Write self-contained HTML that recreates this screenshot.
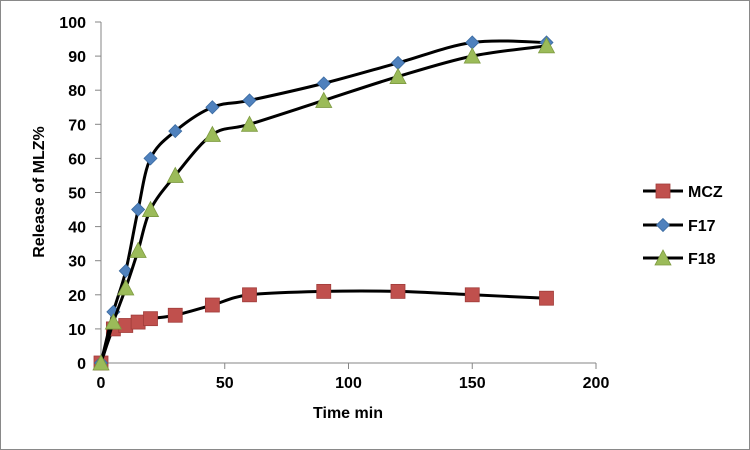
<!DOCTYPE html>
<html><head><meta charset="utf-8"><style>
body{margin:0;background:#fff}
svg{display:block;font-family:"Liberation Sans",Arial,sans-serif}
</style></head><body>
<svg id="chart" width="750" height="450">
<rect x="0.5" y="0.5" width="749" height="449" fill="#fff" stroke="#898989"/>
<g id="axes"></g><g id="series"></g><g id="legend"></g>
<text x="0" y="0" transform="translate(44,192) rotate(-90)" text-anchor="middle" font-size="16" font-weight="bold">Release of MLZ%</text>
<text x="348" y="418" text-anchor="middle" font-size="16" font-weight="bold">Time min</text>
</svg>
<script>
const times=[0,5,10,15,20,30,45,60,90,120,150,180];
const mcz=[0,10,11,12,13,14,17,20,21,21,20,19];
const f17=[0,15,27,45,60,68,75,77,82,88,94,94];
const f18=[0,12,22,33,45,55,67,70,77,84,90,93];
const xTicks=[0,50,100,150,200];
const yTicks=[0,10,20,30,40,50,60,70,80,90,100];
const seriesNames=["MCZ","F17","F18"];
const NS="http://www.w3.org/2000/svg";
const X0=101,X1=596,Y0=363,Y1=22;
const sx=v=>X0+(v-0)/(200-0)*(X1-X0);
const sy=v=>Y0-(v-0)/(100-0)*(Y0-Y1);
function mk(tag,attrs,parent){const e=document.createElementNS(NS,tag);for(const k in attrs)e.setAttribute(k,attrs[k]);parent.appendChild(e);return e;}
const axes=document.getElementById('axes');
let yl=mk('line',{x1:X0,y1:Y1,x2:X0,y2:Y0,stroke:'#868686','stroke-width':1},axes);


let xl=mk('line',{x1:X0,y1:Y0,x2:X1,y2:Y0,stroke:'#868686','stroke-width':1},axes);


yTicks.forEach(v=>{
 mk('line',{x1:X0-6,y1:sy(v),x2:X0,y2:sy(v),stroke:'#868686'},axes);
 const t=mk('text',{x:X0-15,y:sy(v)+6,'text-anchor':'end','font-size':16,'font-weight':'bold'},axes);t.textContent=v;
 
 
});
xTicks.forEach(v=>{
 mk('line',{x1:sx(v),y1:Y0,x2:sx(v),y2:Y0+6,stroke:'#868686'},axes);
 const t=mk('text',{x:sx(v),y:Y0+25,'text-anchor':'middle','font-size':16,'font-weight':'bold'},axes);t.textContent=v;
 
 
});
function smooth(pts){
 let d=`M${pts[0][0]},${pts[0][1]}`;
 for(let i=0;i<pts.length-1;i++){
  const p0=pts[i-1]||pts[i],p1=pts[i],p2=pts[i+1],p3=pts[i+2]||p2;
  const c1=[p1[0]+(p2[0]-p0[0])/6,p1[1]+(p2[1]-p0[1])/6];
  const c2=[p2[0]-(p3[0]-p1[0])/6,p2[1]-(p3[1]-p1[1])/6];
  d+=` C${c1[0]},${c1[1]} ${c2[0]},${c2[1]} ${p2[0]},${p2[1]}`;
 }
 return d;
}
function marker(kind,x,y,parent){
 let e;
 if(kind==='square') e=mk('rect',{x:x-7,y:y-7,width:14,height:14,fill:'#c0504d',stroke:'#a03c3a','stroke-width':0.8},parent);
 else if(kind==='diamond') e=mk('path',{d:`M${x},${y-6.5}L${x+6.5},${y}L${x},${y+6.5}L${x-6.5},${y}Z`,fill:'#4f81bd',stroke:'#3a6aa0','stroke-width':0.8},parent);
 else e=mk('path',{d:`M${x},${y-8}L${x+8},${y+7}L${x-8},${y+7}Z`,fill:'#9bbb59',stroke:'#7d9a40','stroke-width':0.8},parent);
 return e;
}
const sg=document.getElementById('series');
const defs=[[mcz,'square','series-mcz'],[f17,'diamond','series-f17'],[f18,'triangle','series-f18']];
defs.forEach(([vals,kind,name])=>{
 const g=mk('g',{},sg);
 
 
 const pts=times.map((t,i)=>[sx(t),sy(vals[i])]);
 mk('path',{d:smooth(pts),fill:'none',stroke:'#000','stroke-width':3},g);
 pts.forEach(p=>{const m=marker(kind,p[0],p[1],g);
  
  });
});
const lg=document.getElementById('legend');
const lys=[191,225,258],kinds=['square','diamond','triangle'];
seriesNames.forEach((n,i)=>{
 const g=mk('g',{},lg);
 
 
 mk('line',{x1:643,y1:lys[i],x2:683,y2:lys[i],stroke:'#000','stroke-width':3},g);
 marker(kinds[i],663,lys[i],g);
 const t=mk('text',{x:688,y:lys[i]+6,'font-size':16,'font-weight':'bold'},g);t.textContent=n;
});
</script>
</body></html>
